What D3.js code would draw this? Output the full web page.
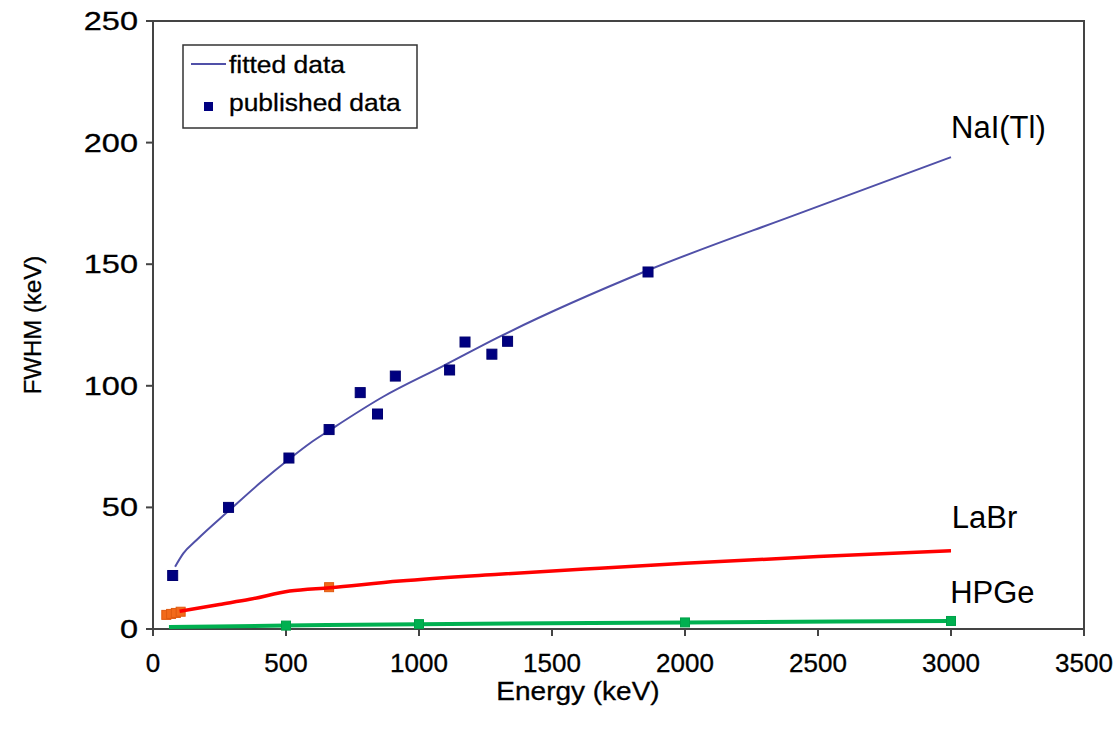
<!DOCTYPE html>
<html>
<head>
<meta charset="utf-8">
<script src="https://cdn.jsdelivr.net/npm/d3@7"></script>
<style>
  body { margin: 0; background: #fff; }
  text { font-family: "Liberation Sans", Arial, sans-serif; fill: #000; stroke: #000; stroke-width: 0.3; }
</style>
</head>
<body>
<svg id="chart"></svg>
<script>
// values (energy keV, FWHM keV)
let naiFit = [[83,25.6],[114,31.1],[164,36.6],[289,49],[402,60],[517,70.3],[590,76.4],[665,81.8],
              [865,95.5],[1090,108.1],[1303,120.2],[1863,147.6],[2430,170.9],[3000,194]]
let naiPub = [[74,22],[284,50],[511,70.3],[662,82],[779,97.2],[844,88.4],[911,104],[1115,106.5],
              [1173,118],[1274,113],[1333,118.3],[1861,146.8]]
let labrFit = [[100,7.3],[250,10.1],[364,12.2],[514,15.6],[665,17],[928,19.7],[1300,22.5],
               [1679,25],[2000,27],[2500,29.8],[3000,32.2]]
let labrPub = [[50,5.8],[68,6.2],[86,6.6],[104,7.1],[662,17.2]]
let hpgeFit = [[60,0.8],[500,1.4],[1000,2.0],[2000,2.7],[3000,3.3]]
let hpgePub = [[500,1.4],[1000,2.0],[2000,2.7],[3000,3.3]]
let xTicks = [0,500,1000,1500,2000,2500,3000,3500]
let yTicks = [0,50,100,150,200,250]
let labels = [{t:"NaI(Tl)", x:3000, y:202}, {t:"LaBr", x:3003, y:41.5}, {t:"HPGe", x:2997, y:10.7}]
let legendItems = ["fitted data", "published data"]

width = 1116
height = 736
let margin = {left:153, top:21, right:32, bottom:107}

var svg = d3.select("#chart").attr("width", width).attr("height", height)

var x = d3.scaleLinear().domain([0,3500]).range([margin.left, width - margin.right])
var y = d3.scaleLinear().domain([0,250]).range([height - margin.bottom, margin.top])

// the picture's text looks stretched sideways, so scale it a bit
function stretchedText(g, txt, px, py, anchor, size, sx){
     g.append("text")
          .attr("transform", `translate(${px},${py}) scale(${sx},1)`)
          .attr("text-anchor", anchor)
          .attr("font-size", size)
          .text(txt)
}

// plot frame
svg.append("rect")
     .attr("x", x(0)).attr("y", y(250))
     .attr("width", x(3500) - x(0)).attr("height", y(0) - y(250))
     .attr("fill", "none").attr("stroke", "#444").attr("stroke-width", 2)

// ticks + labels
var axes = svg.append("g")
axes.selectAll(".xt").data(xTicks).enter().append("line")
     .attr("x1", d => x(d)).attr("x2", d => x(d))
     .attr("y1", y(0)).attr("y2", y(0) + 7)
     .attr("stroke", "#444").attr("stroke-width", 2)
axes.selectAll(".yt").data(yTicks).enter().append("line")
     .attr("x1", x(0) - 7).attr("x2", x(0))
     .attr("y1", d => y(d)).attr("y2", d => y(d))
     .attr("stroke", "#444").attr("stroke-width", 2)
xTicks.forEach(t => stretchedText(axes, t, x(t), y(0) + 43, "middle", 25, 1.04))
yTicks.forEach(t => stretchedText(axes, t, x(0) - 15, y(t) + 9, "end", 26, 1.25))

stretchedText(svg, "Energy (keV)", 578, 700, "middle", 25, 1.12)
svg.append("text")
     .attr("transform", `translate(41,${(y(0) + y(250)) / 2}) rotate(-90)`)
     .attr("text-anchor", "middle")
     .attr("font-size", 24)
     .text("FWHM (keV)")

var line = d3.line().x(d => x(d[0])).y(d => y(d[1])).curve(d3.curveMonotoneX)

function squares(data, s, fill, stroke){
     svg.append("g").selectAll("rect").data(data).enter().append("rect")
          .attr("x", d => x(d[0]) - s / 2).attr("y", d => y(d[1]) - s / 2)
          .attr("width", s).attr("height", s)
          .attr("fill", fill).attr("stroke", stroke).attr("stroke-width", 1)
}

// HPGe
svg.append("path").datum(hpgeFit).attr("d", line)
     .attr("fill", "none").attr("stroke", "#00b050").attr("stroke-width", 4)
squares(hpgePub, 9, "#00b050", "#00a048")

// LaBr
squares(labrPub, 9, "#f26a1b", "#e05a10")
svg.append("path").datum(labrFit).attr("d", line)
     .attr("fill", "none").attr("stroke", "#ff0000").attr("stroke-width", 3.5)

// NaI(Tl)
svg.append("path").datum(naiFit).attr("d", line)
     .attr("fill", "none").attr("stroke", "#5050a8").attr("stroke-width", 2)
squares(naiPub, 10, "#000080", "#000070")

// curve labels
labels.forEach(l => svg.append("text")
     .attr("x", x(l.x)).attr("y", y(l.y))
     .attr("font-size", 31)
     .style("stroke-width", 0)
     .text(l.t))

// legend
var leg = svg.append("g")
leg.append("rect").attr("x", 183).attr("y", 45).attr("width", 234).attr("height", 83)
     .attr("fill", "#fff").attr("stroke", "#333").attr("stroke-width", 1.5)
leg.append("line").attr("x1", 191).attr("x2", 226).attr("y1", 64).attr("y2", 64)
     .attr("stroke", "#5050a8").attr("stroke-width", 2)
leg.append("rect").attr("x", 204).attr("y", 102).attr("width", 9).attr("height", 9)
     .attr("fill", "#000080")
legendItems.forEach((t, i) => stretchedText(leg, t, 229, 73 + i * 38, "start", 24, 1.1))
</script>
</body>
</html>
